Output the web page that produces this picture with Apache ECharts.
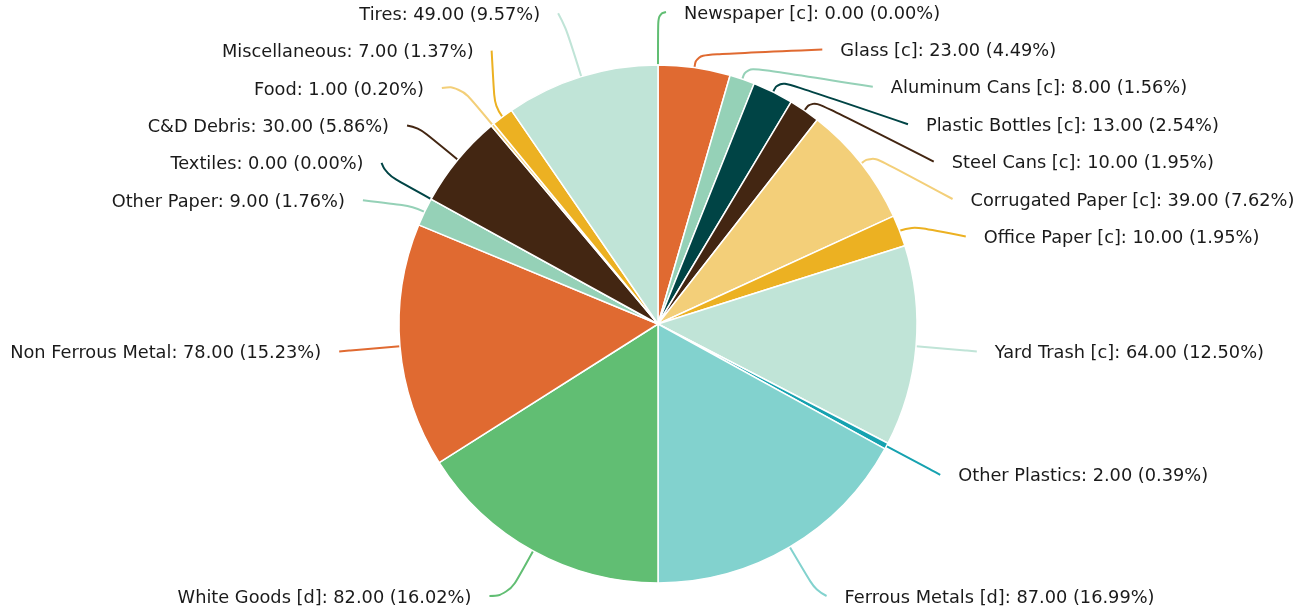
<!DOCTYPE html>
<html>
<head>
<meta charset="utf-8">
<script src="https://cdn.jsdelivr.net/npm/echarts@6/dist/echarts.min.js"></script>
<style>html,body{margin:0;padding:0;background:#fff}#c{width:1311px;height:616px}</style>
</head>
<body>
<div id="c"></div>
<script>
const categories = ["Newspaper [c]","Glass [c]","Aluminum Cans [c]","Plastic Bottles [c]","Steel Cans [c]","Corrugated Paper [c]","Office Paper [c]","Yard Trash [c]","Other Plastics","Ferrous Metals [d]","White Goods [d]","Non Ferrous Metal","Other Paper","Textiles","C&D Debris","Food","Miscellaneous","Tires"];
const values = [0,23,8,13,10,39,10,64,2,87,82,78,9,0,30,1,7,49];
const colors = ["#61be73","#e06a31","#95d1b7","#004445","#432612","#f3cf79","#ecb122","#c0e4d7","#16a2b0","#82d2ce","#61be73","#e06a31","#95d1b7","#004445","#432612","#f3cf79","#ecb122","#c0e4d7"];

const total = values.reduce((a,b)=>a+b,0);
const data = categories.map((n,i)=>({name:n,value:values[i],itemStyle:{color:colors[i]},labelLine:{lineStyle:{color:colors[i]}}}));

// ---- label placement (computed from slice angles) ----
const CX=658, CY=324, R=259;
const RE=320, RK=272, GAP=18, SP=37.4, YMIN=-312, YMAX=272;
const items = [];
{
  let cum=0;
  values.forEach((v,i)=>{
    const a=(cum+v/2)/total*2*Math.PI; cum+=v;
    items.push({i,a,side:Math.sin(a)>=-1e-9?1:-1,xn:RE*Math.sin(a),yn:-RE*Math.cos(a)});
  });
}
function spread(list){
  list.sort((p,q)=>p.yn-q.yn);
  let clusters=list.map(p=>({members:[p],top:p.yn}));
  let changed=true;
  while(changed){
    changed=false;
    clusters.forEach(c=>{
      const n=c.members.length; let m=0;
      c.members.forEach((p,k)=>{m+=p.yn-k*SP;});
      c.top=m/n;
      if(c.top<YMIN) c.top=YMIN;
      if(c.top+(n-1)*SP>YMAX) c.top=YMAX-(n-1)*SP;
    });
    for(let k=0;k<clusters.length-1;k++){
      const a=clusters[k], b=clusters[k+1];
      if(a.top+a.members.length*SP>b.top+1e-6){
        a.members=a.members.concat(b.members); clusters.splice(k+1,1); changed=true; break;
      }
    }
  }
  clusters.forEach(c=>c.members.forEach((p,k)=>{p.y=c.top+k*SP;}));
}
spread(items.filter(p=>p.side>0));
spread(items.filter(p=>p.side<0));
items.forEach(p=>{
  p.dy=Math.abs(p.y-p.yn);
  const xc=Math.sqrt(Math.max(0,RE*RE-p.y*p.y));
  p.x=p.side*(Math.abs(p.y)>0.95*RE?Math.abs(p.xn)+p.dy:xc);
  p.rk=p.dy<12?RE-10:RK;
});

const chart = echarts.init(document.getElementById('c'), null, {renderer:'canvas'});
chart.setOption({
  animation:false,
  series:[{
    type:'pie',
    center:[CX,CY],
    radius:[0,R],
    startAngle:90,
    clockwise:true,
    minShowLabelAngle:0,
    stillShowZeroSum:true,
    avoidLabelOverlap:false,
    data:data,
    itemStyle:{borderColor:'#fff',borderWidth:1.5},
    label:{
      show:true,
      fontFamily:'DejaVu Sans',
      fontSize:17.78,
      color:'#1a1a1a',
      formatter:p=>p.name+': '+p.value.toFixed(2)+' ('+(p.value/total*100).toFixed(2)+'%)'
    },
    labelLine:{show:true,length:15,length2:40,smooth:0.5,lineStyle:{width:2}},
    labelLayout:function(params){
      const p=items[params.dataIndex];
      const s=Math.sin(p.a), c=Math.cos(p.a);
      return {
        x:CX+p.x+p.side*GAP,
        y:CY+p.y+2,
        align:p.side>0?'left':'right',
        verticalAlign:'middle',
        labelLinePoints:[[CX+R*s,CY-R*c],[CX+p.rk*s,CY-p.rk*c],[CX+p.x,CY+p.y]]
      };
    },
    emphasis:{disabled:true}
  }]
});
</script>
</body>
</html>
